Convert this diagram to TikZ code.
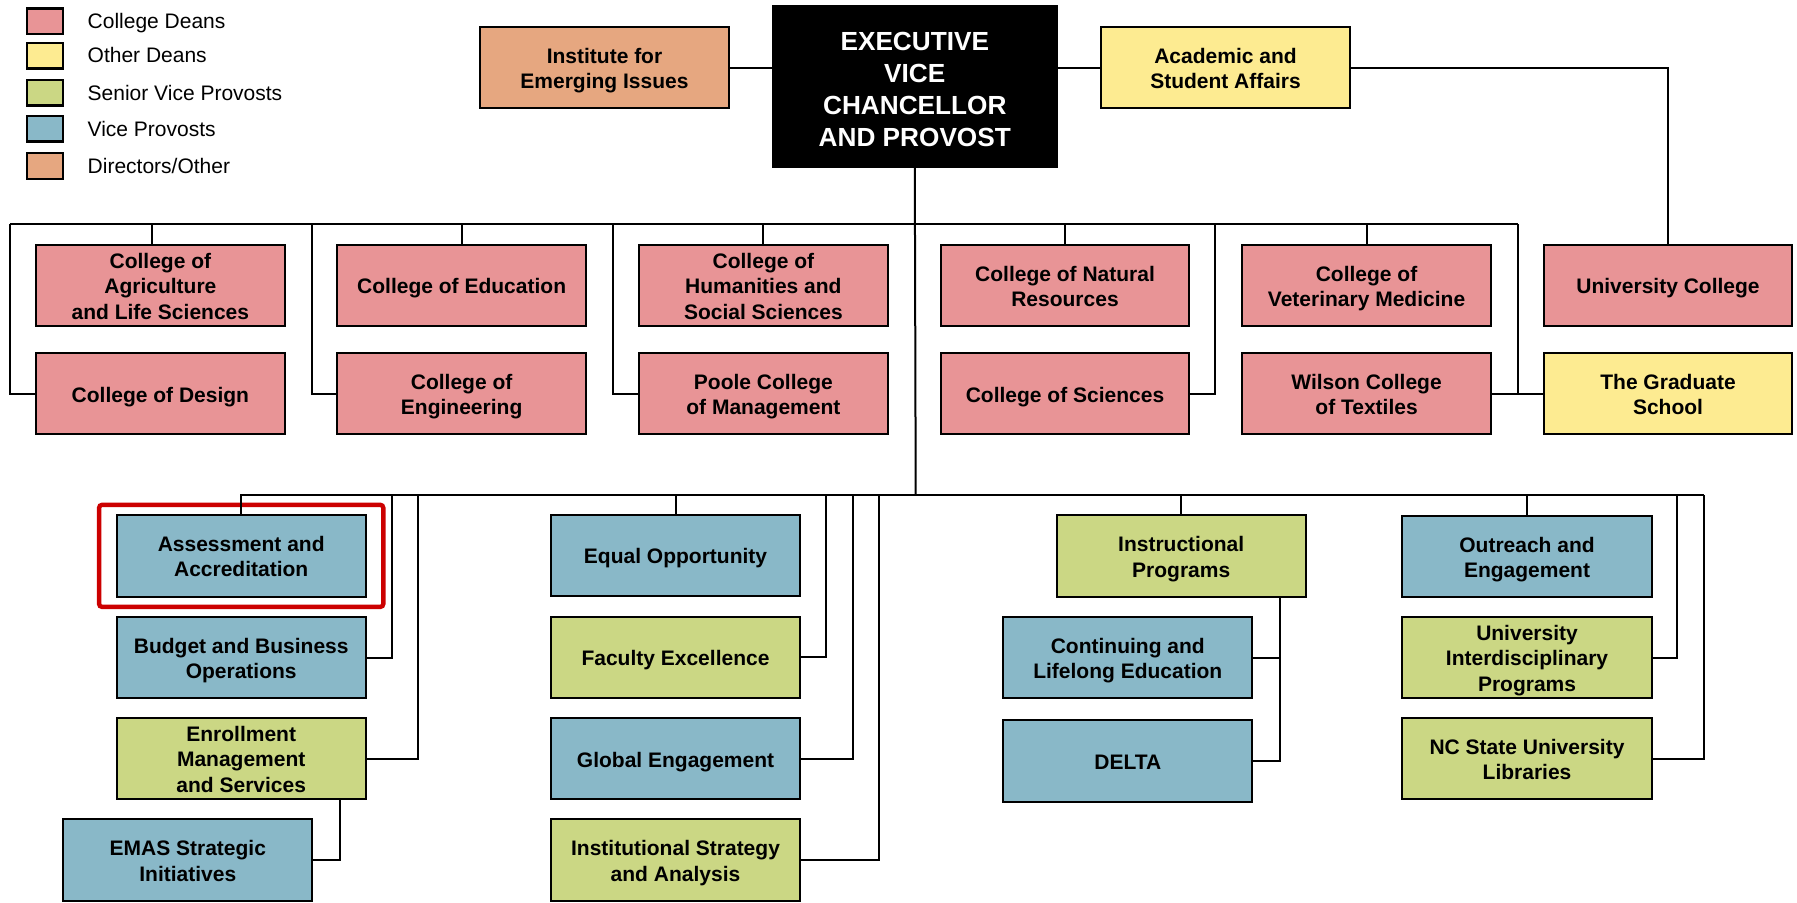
\documentclass[tikz,border=0pt]{standalone}
\usepackage{fontspec}
\setmainfont{Liberation Sans}
\usetikzlibrary{fit}
\definecolor{cdean}{RGB}{232,148,150}
\definecolor{odean}{RGB}{253,235,145}
\definecolor{svp}{RGB}{203,215,132}
\definecolor{vp}{RGB}{137,184,200}
\definecolor{dir}{RGB}{230,167,128}
\definecolor{hl}{RGB}{204,0,0}
\newcommand\boxstrut{\rule[-2.5pt]{0pt}{13.4pt}}
\newcommand\boxendstrut{\rule[-2.5pt]{0pt}{10pt}}
\newcommand\execstrut{\rule[-3pt]{0pt}{17.8pt}}
\newcommand\execendstrut{\rule[-3pt]{0pt}{12pt}}
\tikzset{
  box/.style={draw=black, line width=1pt, inner sep=0pt, align=center,
    font=\fontsize{10.5}{12.6}\selectfont\bfseries},
  pinkbox/.style={box, fill=cdean},
  yelbox/.style={box, fill=odean},
  grnbox/.style={box, fill=svp},
  blubox/.style={box, fill=vp},
  orgbox/.style={box, fill=dir},
  execbox/.style={draw=black, line width=1pt, inner sep=0pt, align=center,
    fill=black, text=white, font=\fontsize{13.1}{16}\selectfont\bfseries,
    execute at begin node={\let\boxstrut\execstrut\let\boxendstrut\execendstrut}},
  conn/.style={line width=1pt, draw=black},
  swatch/.style={draw=black, line width=1.2pt, inner sep=0pt, minimum width=18pt, minimum height=12.8pt},
  legtext/.style={anchor=base west, inner sep=0pt, font=\fontsize{10.5}{12.6}\selectfont}
}
\newcommand\bx[7]{\node[#6, minimum width={(#4-#2)*0.5pt}, minimum height={(#5-#3)*0.5pt}] (#1) at ({(#2+#4)/2},{(#3+#5)/2}) {\boxstrut#7\boxendstrut};}
\begin{document}
\begin{tikzpicture}[x=0.5pt,y=-0.5pt]
\useasboundingbox (0,0) rectangle (1797,902);
% legend
\node[swatch, fill=cdean] (s1) at (45,21.2) {};
\node[swatch, fill=odean] (s2) at (45,55.5) {};
\node[swatch, fill=svp] (s3) at (45,92.8) {};
\node[swatch, fill=vp] (s4) at (45,128.8) {};
\node[swatch, fill=dir] (s5) at (45,166) {};
\node[legtext] (l1) at (87.3,28.4) {College Deans};
\node[legtext] (l2) at (87.3,62.7) {Other Deans};
\node[legtext] (l3) at (87.3,100) {Senior Vice Provosts};
\node[legtext] (l4) at (87.3,136) {Vice Provosts};
\node[legtext] (l5) at (87.3,173.2) {Directors/Other};
% top
\bx{inst}{480}{26.7}{729}{108.3}{orgbox}{Institute for\\Emerging Issues}
\bx{exec}{772.6}{6}{1057}{166.7}{execbox}{EXECUTIVE\\VICE\\CHANCELLOR\\AND PROVOST}
\bx{acad}{1101}{26.7}{1350}{108.3}{yelbox}{Academic and\\Student Affairs}
% colleges
\bx{agri}{36}{245}{284.7}{326}{pinkbox}{College of\\Agriculture\\and Life Sciences}
\bx{design}{36}{353.3}{284.7}{434.3}{pinkbox}{College of Design}
\bx{edu}{337.3}{245}{586}{326}{pinkbox}{College of Education}
\bx{eng}{337.3}{353.3}{586}{434.3}{pinkbox}{College of\\Engineering}
\bx{hum}{639}{245}{887.8}{326}{pinkbox}{College of\\Humanities and\\Social Sciences}
\bx{poole}{639}{353.3}{887.8}{434.3}{pinkbox}{Poole College\\of Management}
\bx{natres}{940.6}{245}{1189.4}{326}{pinkbox}{College of Natural\\Resources}
\bx{sci}{940.6}{353.3}{1189.4}{434.3}{pinkbox}{College of Sciences}
\bx{vet}{1242.2}{245}{1490.9}{326}{pinkbox}{College of\\Veterinary Medicine}
\bx{wilson}{1242.2}{353.3}{1490.9}{434.3}{pinkbox}{Wilson College\\of Textiles}
\bx{ucol}{1544}{245}{1792}{326}{pinkbox}{University College}
\bx{grad}{1544}{353.3}{1792}{434.3}{yelbox}{The Graduate\\School}
% provost offices
\bx{assess}{116.7}{515}{365.7}{596.7}{blubox}{Assessment and\\Accreditation}
\bx{budget}{116.7}{616.7}{365.7}{698.3}{blubox}{Budget and Business\\Operations}
\bx{enroll}{116.7}{717.7}{365.7}{799.3}{grnbox}{Enrollment\\Management\\and Services}
\bx{emas}{63.3}{819.3}{312.3}{900.7}{blubox}{EMAS Strategic\\Initiatives}
\bx{equal}{551}{515}{800}{595.7}{blubox}{Equal Opportunity}
\bx{fac}{551}{616.7}{800}{697.7}{grnbox}{Faculty Excellence}
\bx{glob}{551}{718.3}{800}{799}{blubox}{Global Engagement}
\bx{instit}{551}{819.3}{800}{900.7}{grnbox}{Institutional Strategy\\and Analysis}
\bx{instr}{1056.7}{515.3}{1305.7}{596.7}{grnbox}{Instructional\\Programs}
\bx{cont}{1003.3}{616.7}{1252.3}{698.3}{blubox}{Continuing and\\Lifelong Education}
\bx{delta}{1003.3}{720}{1252.3}{801.7}{blubox}{DELTA}
\bx{outr}{1402.3}{515.7}{1651.7}{597.3}{blubox}{Outreach and\\Engagement}
\bx{uip}{1402.3}{616.7}{1651.7}{698.3}{grnbox}{University\\Interdisciplinary\\Programs}
\bx{lib}{1402.3}{717.7}{1651.7}{799.3}{grnbox}{NC State University\\Libraries}
% highlight
\node[draw=hl, line width=2.2pt, rounded corners=1.5pt, inner xsep=8.3pt, inner ysep=4.6pt, fit=(assess)] (hlbox) {};
% bus coordinates
\coordinate (tb0) at (9.9,224.3);
\coordinate (tb1) at (312.4,224.3);
\coordinate (tb2) at (612.5,224.3);
\coordinate (tb3) at (1215.4,224.3);
\coordinate (tb4) at (1518.4,224.3);
\coordinate (lb) at (915.7,495);
\coordinate (lb1) at (391.7,495);
\coordinate (lb2) at (418.3,495);
\coordinate (lb3) at (826,495);
\coordinate (lb4) at (853.3,495);
\coordinate (lb5) at (879.3,495);
\coordinate (lb6) at (1676.7,495);
\coordinate (lb7) at (1704,495);
% top connectors
\draw[conn] (inst.east) -- (inst.east -| exec.west);
\draw[conn] (acad.west -| exec.east) -- (acad.west);
\draw[conn] (acad.east) -| (ucol.north);
\draw[conn] (exec.south) -- (lb);
\draw[conn] (tb0) -- (tb4);
\draw[conn] (tb0) |- (design.west);
\draw[conn] ([xshift=-4pt]agri.north) -- ([xshift=-4pt]agri.north |- tb0);
\draw[conn] (edu.north) -- (edu.north |- tb0);
\draw[conn] (tb1) |- (eng.west);
\draw[conn] (tb2) |- (poole.west);
\draw[conn] (hum.north) -- (hum.north |- tb0);
\draw[conn] (natres.north) -- (natres.north |- tb0);
\draw[conn] (tb3) |- (sci.east);
\draw[conn] (vet.north) -- (vet.north |- tb0);
\draw[conn] (wilson.east) -- (grad.west);
\draw[conn] (tb4) -- (tb4 |- grad.west);
% lower connectors
\draw[conn] (assess.north) -- (assess.north |- lb) -- (lb7);
\draw[conn] (lb1) |- (budget.east);
\draw[conn] (lb2) |- (enroll.east);
\draw[conn] ([xshift=13.35pt]enroll.south -| emas.east) |- (emas.east);
\draw[conn] (equal.north) -- (equal.north |- lb);
\draw[conn] (lb3) |- (fac.east);
\draw[conn] (lb4) |- (glob.east);
\draw[conn] (lb5) |- (instit.east);
\draw[conn] (instr.north) -- (instr.north |- lb);
\draw[conn] ([xshift=13.35pt]instr.south -| cont.east) |- (delta.east);
\draw[conn] (cont.east) -- ([xshift=13.35pt]cont.east);
\draw[conn] (outr.north) -- (outr.north |- lb);
\draw[conn] (lb6) |- (uip.east);
\draw[conn] (lb7) |- (lib.east);
\end{tikzpicture}
\end{document}
